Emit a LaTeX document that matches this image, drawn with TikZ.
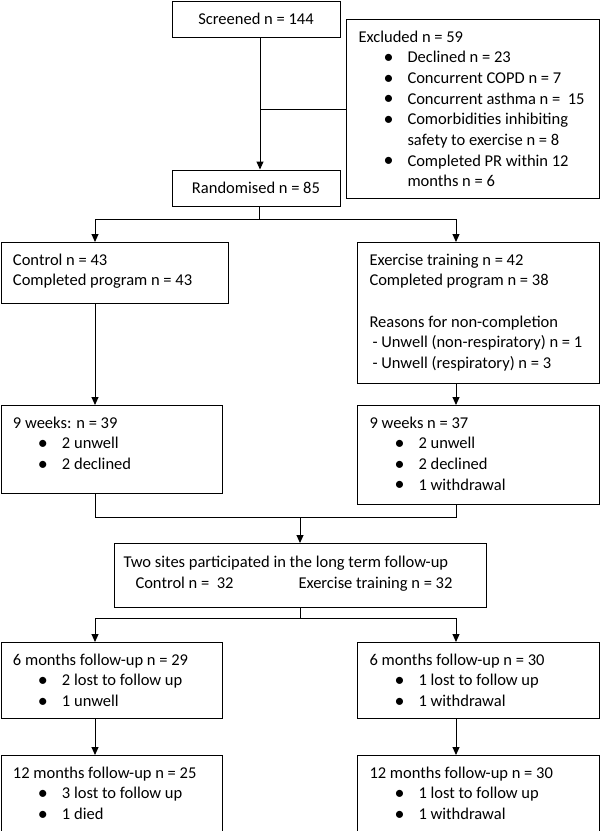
\documentclass[tikz,border=0pt]{standalone}
\usepackage{fontspec}
\setmainfont{Carlito}
\usetikzlibrary{arrows.meta}
\newcommand\blt[1]{\hspace*{25pt}\makebox[24pt][l]{\raisebox{-0.6pt}{\fontsize{20}{0}\selectfont\textbullet}}#1}
\newcommand\cnt[1]{\hspace*{49pt}#1}
\newcommand\bxt[3]{\parbox[c][#2][t]{#1}{\leftskip=12pt\rule{0pt}{22.5pt}#3}}
\begin{document}
\begin{tikzpicture}[x=1pt,y=-1pt,line width=1pt,
  txt/.style={font=\fontsize{16.5}{20.7}\selectfont},
  box/.style={draw,txt,inner sep=0pt,anchor=north west},
  cbox/.style={draw,txt,inner sep=0pt,minimum width=168pt,minimum height=36pt},
  arr/.style={-{Triangle[length=8pt,width=7pt]}}]
\useasboundingbox (0,0) rectangle (600,831);

% boxes
\node[cbox] (scr) at (256,19) {Screened n = 144};
\node[cbox] (rnd) at (256,188) {Randomised n = 85};
\node[box] (exc) at (346,19) {\bxt{253pt}{179pt}{Excluded n = 59\\
  \blt{Declined n = 23}\\
  \blt{Concurrent COPD n = 7}\\
  \blt{Concurrent asthma n = \ 15}\\
  \blt{Comorbidities inhibiting}\\
  \cnt{safety to exercise n = 8}\\
  \blt{Completed PR within 12}\\
  \cnt{months n = 6}}};
\node[box] (ctl) at (0.5,242) {\bxt{227.5pt}{61pt}{Control n = 43\\
  Completed program n = 43}};
\node[box] (exr) at (357,242) {\bxt{242pt}{141pt}{Exercise training n = 42\\
  Completed program n = 38\\[20.7pt]
  Reasons for non-completion\\
  \hspace*{3pt}- Unwell (non-respiratory) n = 1\\
  \hspace*{3pt}- Unwell (respiratory) n = 3}};
\node[box] (w9L) at (0.5,405) {\bxt{221.5pt}{88pt}{9 weeks: n = 39\\
  \blt{2 unwell}\\
  \blt{2 declined}}};
\node[box] (w9R) at (357,405) {\bxt{242pt}{99pt}{9 weeks n = 37\\
  \blt{2 unwell}\\
  \blt{2 declined}\\
  \blt{1 withdrawal}}};
\node[box] (two) at (114,543) {\bxt{372pt}{64pt}{\rule{0pt}{24pt}\hspace*{-3pt}Two sites participated in the long term follow-up\\
  \hspace*{9pt}\makebox[163pt][l]{Control n = \ 32}Exercise training n = 32}};
\node[box] (m6L) at (0.5,642) {\bxt{221.5pt}{76pt}{6 months follow-up n = 29\\
  \blt{2 lost to follow up}\\
  \blt{1 unwell}}};
\node[box] (m6R) at (357,642) {\bxt{242pt}{76pt}{6 months follow-up n = 30\\
  \blt{1 lost to follow up}\\
  \blt{1 withdrawal}}};
\node[box] (m12L) at (0.5,755) {\bxt{221.5pt}{75.5pt}{12 months follow-up n = 25\\
  \blt{3 lost to follow up}\\
  \blt{1 died}}};
\node[box] (m12R) at (357,755) {\bxt{242pt}{75.5pt}{12 months follow-up n = 30\\
  \blt{1 lost to follow up}\\
  \blt{1 withdrawal}}};

% junction coordinates
\coordinate (j1) at (260,109);
\coordinate (s1) at (259,219);
\coordinate (cL) at (95,0);
\coordinate (cR) at (456,0);
\coordinate (j2) at (300,517);
\coordinate (j3) at (300,618);

% connectors
\draw[arr] (scr.south -| j1) -- (rnd.north -| j1);
\draw (j1) -- (j1 -| exc.west);
\draw (rnd.south -| s1) -- (s1);
\draw[arr] (s1) -| (cL |- ctl.north);
\draw[arr] (s1) -| (cR |- exr.north);
\draw[arr] (ctl.south -| cL) -- (w9L.north -| cL);
\draw[arr] (exr.south -| cR) -- (w9R.north -| cR);
\draw (w9L.south -| cL) |- (j2);
\draw (w9R.south -| cR) |- (j2);
\draw[arr] (j2) -- (j2 |- two.north);
\draw (j3 |- two.south) -- (j3);
\draw[arr] (j3) -| (cL |- m6L.north);
\draw[arr] (j3) -| (cR |- m6R.north);
\draw[arr] (m6L.south -| cL) -- (m12L.north -| cL);
\draw[arr] (m6R.south -| cR) -- (m12R.north -| cR);
\end{tikzpicture}
\end{document}
